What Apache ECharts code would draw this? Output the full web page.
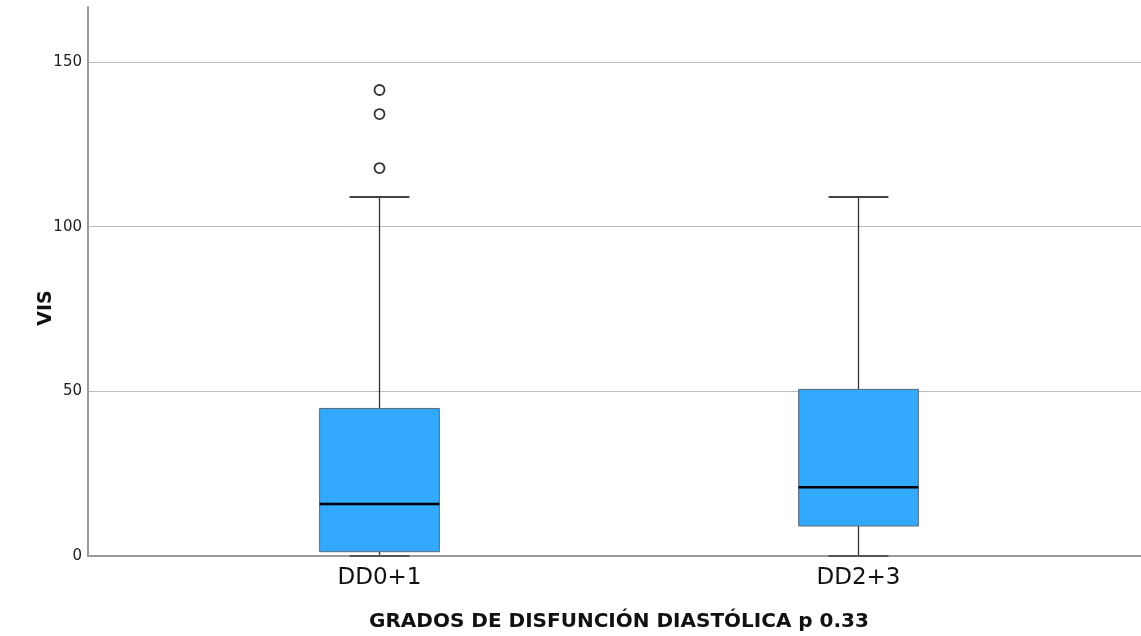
<!DOCTYPE html>
<html>
<head>
<meta charset="utf-8">
<script src="https://cdn.jsdelivr.net/npm/echarts@6/dist/echarts.min.js"></script>
<style>
html,body{margin:0;padding:0;background:#fff;}
#chart{width:1141px;height:636px;}
</style>
</head>
<body>
<div id="chart"></div>
<script>
var categories = ['DD0+1', 'DD2+3'];
// [min whisker, Q1, median, Q3, max whisker]
var boxStats = [
  [0, 1.3, 15.8, 44.8, 109],
  [0, 9.1, 20.9, 50.6, 109]
];
var outliers = [
  [0, 141.5],
  [0, 134.2],
  [0, 117.8]
];
var yTicks = [0, 50, 100, 150];
var yAxisTitle = 'VIS';
var xAxisTitle = 'GRADOS DE DISFUNCIÓN DIASTÓLICA p 0.33';

var YMAX = 166.7;
var boxData = boxStats.map(function (s, i) { return [i].concat(s); });

var chart = echarts.init(document.getElementById('chart'), null, {renderer: 'canvas'});

var option = {
  backgroundColor: '#ffffff',
  animation: false,
  grid: [
    {left: 88, right: 0, top: 7, bottom: 80},
    {left: 140, right: 43, top: 7, bottom: 80}
  ],
  xAxis: [
    {
      gridIndex: 0, type: 'value', min: 0, max: 1,
      axisLine: {show: true, lineStyle: {color: '#9a9a9a', width: 2}},
      axisTick: {show: false}, axisLabel: {show: false}, splitLine: {show: false}
    },
    {
      gridIndex: 1, type: 'category', data: categories, boundaryGap: true,
      axisLine: {show: false}, axisTick: {show: false},
      axisLabel: {show: true, color: '#111', fontFamily: 'DejaVu Sans', fontSize: 23, margin: 11},
      splitLine: {show: false}
    }
  ],
  yAxis: [
    {
      gridIndex: 0, type: 'value', min: 0, max: YMAX, interval: 50,
      axisLine: {show: true, lineStyle: {color: '#9a9a9a', width: 2}},
      axisTick: {show: false},
      axisLabel: {
        color: '#222', fontFamily: 'DejaVu Sans', fontSize: 15, margin: 6,
        formatter: function (v) { return yTicks.indexOf(v) >= 0 ? String(v) : ''; }
      },
      splitLine: {show: true, showMinLine: false, showMaxLine: false, lineStyle: {color: '#bdbdbd', width: 1}}
    },
    {
      gridIndex: 1, type: 'value', min: 0, max: YMAX, show: false
    }
  ],
  series: [
    {
      type: 'custom',
      xAxisIndex: 1, yAxisIndex: 1,
      data: boxData,
      z: 3,
      renderItem: function (params, api) {
        var c = api.value(0);
        var lo = api.coord([c, api.value(1)]);
        var q1 = api.coord([c, api.value(2)]);
        var md = api.coord([c, api.value(3)]);
        var q3 = api.coord([c, api.value(4)]);
        var hi = api.coord([c, api.value(5)]);
        var band = api.size([1, 0])[0];
        var bw = band * 0.25;
        var cw = band * 0.125;
        var x = lo[0];
        var line = {stroke: '#333', lineWidth: 1.3};
        return {
          type: 'group',
          children: [
            {type: 'line', shape: {x1: x, y1: q3[1], x2: x, y2: hi[1]}, style: line},
            {type: 'line', shape: {x1: x, y1: q1[1], x2: x, y2: lo[1]}, style: line},
            {type: 'line', shape: {x1: x - cw / 2, y1: hi[1], x2: x + cw / 2, y2: hi[1]}, style: {stroke: '#444', lineWidth: 2}},
            {type: 'line', shape: {x1: x - cw / 2, y1: lo[1], x2: x + cw / 2, y2: lo[1]}, style: {stroke: '#555', lineWidth: 2}},
            {type: 'rect', shape: {x: x - bw / 2, y: q3[1], width: bw, height: q1[1] - q3[1]},
              style: {fill: '#33a9fd', stroke: '#5a6a78', lineWidth: 1}},
            {type: 'line', shape: {x1: x - bw / 2, y1: md[1], x2: x + bw / 2, y2: md[1]}, style: {stroke: '#000', lineWidth: 2.5}}
          ]
        };
      }
    },
    {
      type: 'scatter',
      xAxisIndex: 1, yAxisIndex: 1,
      data: outliers,
      symbol: 'circle', symbolSize: 10,
      z: 4,
      itemStyle: {color: '#ffffff', borderColor: '#333', borderWidth: 1.8, opacity: 1}
    }
  ],
  graphic: [
    {
      type: 'text', x: 46, y: 308, rotation: Math.PI / 2,
      style: {text: yAxisTitle, fontFamily: 'DejaVu Sans', fontWeight: 'bold', fontSize: 19, fill: '#111',
        textAlign: 'center', textVerticalAlign: 'middle'}
    },
    {
      type: 'text', x: 619, y: 622,
      style: {text: xAxisTitle, fontFamily: 'DejaVu Sans', fontWeight: 'bold', fontSize: 20, fill: '#111',
        textAlign: 'center', textVerticalAlign: 'middle'}
    }
  ]
};
chart.setOption(option);
</script>
</body>
</html>
